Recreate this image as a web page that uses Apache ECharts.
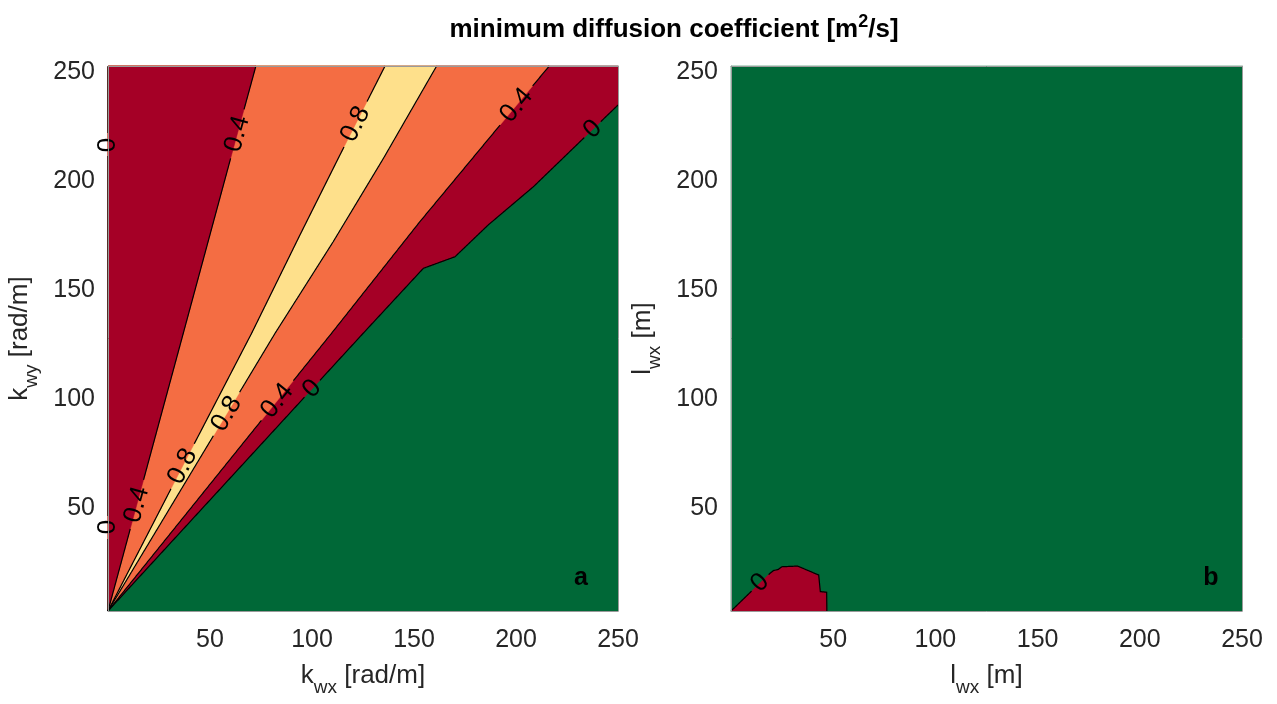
<!DOCTYPE html>
<html><head><meta charset="utf-8">
<script src="https://cdn.jsdelivr.net/npm/echarts@6/dist/echarts.min.js"></script>
<style>html,body{margin:0;padding:0;background:#fff}#c{width:1277px;height:704px}</style>
</head><body><div id="c"></div>
<script>
// ---------- data ----------
const tickValues = [50, 100, 150, 200, 250];
const contourLevels = ['0', '0.4', '0.8'];

// panel a : contour lines (kwx, kwy)
const lineEdge0 = [[0, 0], [0, 250]];
const lineA04 = [[0, 0], [36.9, 127.4], [60.1, 207.6], [72.5, 250]];
const lineB08 = [[0, 0], [38, 69], [70.4, 127.4], [94.1, 172.5], [113.7, 209.2], [135.8, 250]];
const lineC08 = [[0, 0], [81.9, 127.4], [110.4, 169.4], [135, 207.6], [161.1, 250]];
const lineD04 = [[0, 0], [109.6, 127.4], [152.9, 178.6], [192.2, 222.9], [216.3, 250]];
const lineE0 = [[0, 0], [125.1, 127.4], [154.6, 157.2], [170.1, 162.5], [186.4, 177.1], [208.5, 194.6], [250, 232.1]];

// panel a : contour label positions [x, y]
const labelsA_edge = [[0, 213.8], [0, 38.5]];
const labelsA_A = [[65.7, 218.3], [14.9, 48.6]];
const labelsA_B = [[122, 223], [36.9, 66.2]];
const labelsA_C = [[59, 89.9]];
const labelsA_D = [[203, 229.8], [83.5, 96]];
const labelsA_E = [[238, 220.6], [100.6, 101.4]];

// panel b : contour (lwx, lwx)
const blob0 = [[0, 0], [19.1, 17.3], [20.7, 18.5], [23.2, 19.1], [24.9, 20.3], [32.6, 20.6], [42.9, 16.5], [43.7, 8.9], [46.8, 8.6], [46.9, 0]];
const labelsB_blob = [[14.5, 12.6]];

// ---------- styles ----------
const C_RED = '#A50026', C_ORANGE = '#F46D43', C_YELLOW = '#FEE08B', C_GREEN = '#006837';
const FONT = '"Liberation Sans", Arial, Helvetica, sans-serif';
const LABEL_FS = 26;

function leftOf(line) {
  const last = line[line.length - 1];
  const pts = line.slice();
  if (last[1] < 250) pts.push([250, 250]);
  pts.push([0, 250]);
  return pts;
}

function projectOnLine(px, p) {
  let best = null;
  for (let i = 0; i < px.length - 1; i++) {
    const a = px[i], b = px[i + 1];
    const dx = b[0] - a[0], dy = b[1] - a[1];
    const L2 = dx * dx + dy * dy || 1;
    let t = ((p[0] - a[0]) * dx + (p[1] - a[1]) * dy) / L2;
    t = Math.max(0, Math.min(1, t));
    const q = [a[0] + t * dx, a[1] + t * dy];
    const d = Math.hypot(q[0] - p[0], q[1] - p[1]);
    if (!best || d < best.d) best = { d, q, dx, dy };
  }
  let rot = Math.atan2(-best.dy, best.dx);
  if (rot > Math.PI / 2 + 1e-6) rot -= Math.PI;
  if (rot < -Math.PI / 2 - 1e-6) rot += Math.PI;
  return { q: best.q, rot };
}

function brokenRuns(px, gaps) {
  const runs = []; let cur = [];
  for (let i = 0; i < px.length - 1; i++) {
    const a = px[i], b = px[i + 1];
    const n = Math.max(1, Math.ceil(Math.hypot(b[0] - a[0], b[1] - a[1])));
    for (let k = (i === 0 ? 0 : 1); k <= n; k++) {
      const t = k / n;
      const p = [a[0] + t * (b[0] - a[0]), a[1] + t * (b[1] - a[1])];
      const inGap = gaps.some(g => Math.hypot(p[0] - g.c[0], p[1] - g.c[1]) < g.r);
      if (inGap) { if (cur.length > 1) runs.push(cur); cur = []; }
      else cur.push(p);
    }
  }
  if (cur.length > 1) runs.push(cur);
  return runs;
}

function makeRender(fills, lines) {
  return function (params, api) {
    const children = [];
    fills.forEach(f => {
      children.push({ type: 'polygon', shape: { points: f.pts.map(p => api.coord(p)) }, style: { fill: f.color, stroke: f.color, lineWidth: 0.5 } });
    });
    const texts = [];
    lines.forEach(ln => {
      const px = ln.pts.map(p => api.coord(p));
      const gaps = [];
      ln.labels.forEach(lp => {
        const pr = projectOnLine(px, api.coord(lp));
        const r = ln.text.length * LABEL_FS * 0.27 + 4;
        gaps.push({ c: pr.q, r });
        texts.push({ type: 'text', x: pr.q[0], y: pr.q[1], rotation: pr.rot,
          style: { text: ln.text, font: LABEL_FS + 'px ' + FONT, fill: '#000', align: 'center', verticalAlign: 'middle' } });
      });
      brokenRuns(px, gaps).forEach(run => {
        children.push({ type: 'polyline', shape: { points: run }, style: { stroke: '#000', lineWidth: 1.2, fill: null } });
      });
    });
    return { type: 'group', children: children.concat(texts) };
  };
}

const fillsA = [
  { pts: [[0, 0], [250, 0], [250, 250], [0, 250]], color: C_GREEN },
  { pts: leftOf(lineE0), color: C_RED },
  { pts: leftOf(lineD04), color: C_ORANGE },
  { pts: leftOf(lineC08), color: C_YELLOW },
  { pts: leftOf(lineB08), color: C_ORANGE },
  { pts: leftOf(lineA04), color: C_RED }
];
const linesA = [
  { pts: lineEdge0, text: contourLevels[0], labels: labelsA_edge },
  { pts: lineA04, text: contourLevels[1], labels: labelsA_A },
  { pts: lineB08, text: contourLevels[2], labels: labelsA_B },
  { pts: lineC08, text: contourLevels[2], labels: labelsA_C },
  { pts: lineD04, text: contourLevels[1], labels: labelsA_D },
  { pts: lineE0, text: contourLevels[0], labels: labelsA_E }
];
const fillsB = [
  { pts: [[0, 0], [250, 0], [250, 250], [0, 250]], color: C_GREEN },
  { pts: blob0, color: C_RED }
];
const linesB = [{ pts: blob0, text: contourLevels[0], labels: labelsB_blob }];

const TICK_COLOR = '#262626';
const BORDER = '#9a9a9a';
const rich = {
  m: { fontSize: 26, fontFamily: FONT, color: TICK_COLOR, lineHeight: 30, verticalAlign: 'top' },
  s: { fontSize: 19, fontFamily: FONT, color: TICK_COLOR, lineHeight: 21, padding: [20, 0, 0, 0] }
};
function mainAxis(gridIndex, name, isX) {
  const label = { fontSize: 25, fontFamily: FONT, color: TICK_COLOR, margin: isX ? 17 : 13,
    formatter: v => tickValues.indexOf(v) >= 0 ? String(v) : '' };
  if (!isX) { label.verticalAlign = 'top'; label.lineHeight = 13; }
  return {
    type: 'value', gridIndex, min: 0, max: 250, interval: 50,
    position: isX ? 'bottom' : 'left',
    name, nameLocation: 'middle', nameGap: isX ? 50 : 71, nameRotate: isX ? 0 : 90,
    nameTextStyle: { rich },
    axisLine: { show: true, onZero: false, lineStyle: { color: BORDER, width: 1 } },
    axisTick: { show: false },
    splitLine: { show: false },
    axisLabel: label,
    z: 5
  };
}
function frameAxis(gridIndex, isX) {
  return {
    type: 'value', gridIndex, min: 0, max: 250, interval: 50,
    position: isX ? 'top' : 'right',
    axisLine: { show: true, onZero: false, lineStyle: { color: BORDER, width: 1 } },
    axisTick: { show: false }, axisLabel: { show: false }, splitLine: { show: false }, z: 5
  };
}

const option = {
  animation: false,
  backgroundColor: '#fff',
  title: {
    text: '{b|minimum diffusion coefficient [m}{sup|2}{b|/s]}',
    left: 669, top: 8, textAlign: 'center',
    textStyle: { rich: {
      b: { fontSize: 26, fontWeight: 'bold', fontFamily: FONT, color: '#000', lineHeight: 30, verticalAlign: 'bottom' },
      sup: { fontSize: 18, fontWeight: 'bold', fontFamily: FONT, color: '#000', lineHeight: 19, verticalAlign: 'top' }
    } }
  },
  grid: [
    { left: 108, top: 66, width: 510, height: 545 },
    { left: 731, top: 66, width: 511, height: 545 }
  ],
  xAxis: [
    mainAxis(0, '{m|k}{s|wx}{m| [rad/m]}', true),
    mainAxis(1, '{m|l}{s|wx}{m| [m]}', true),
    frameAxis(0, true), frameAxis(1, true)
  ],
  yAxis: [
    mainAxis(0, '{m|k}{s|wy}{m| [rad/m]}', false),
    mainAxis(1, '{m|l}{s|wx}{m| [m]}', false),
    frameAxis(0, false), frameAxis(1, false)
  ],
  graphic: [
    { type: 'text', z: 100, x: 581, y: 578, style: { text: 'a', font: 'bold 25px ' + FONT, fill: '#000', align: 'center', verticalAlign: 'middle' } },
    { type: 'text', z: 100, x: 1211, y: 578, style: { text: 'b', font: 'bold 25px ' + FONT, fill: '#000', align: 'center', verticalAlign: 'middle' } }
  ],
  series: [
    { type: 'custom', coordinateSystem: 'cartesian2d', xAxisIndex: 0, yAxisIndex: 0, clip: false, silent: true,
      data: [[0, 0]], renderItem: makeRender(fillsA, linesA), z: 2 },
    { type: 'custom', coordinateSystem: 'cartesian2d', xAxisIndex: 1, yAxisIndex: 1, clip: false, silent: true,
      data: [[0, 0]], renderItem: makeRender(fillsB, linesB), z: 2 }
  ]
};
const chart = echarts.init(document.getElementById('c'), null, { renderer: 'canvas' });
chart.setOption(option);
</script>
</body></html>
